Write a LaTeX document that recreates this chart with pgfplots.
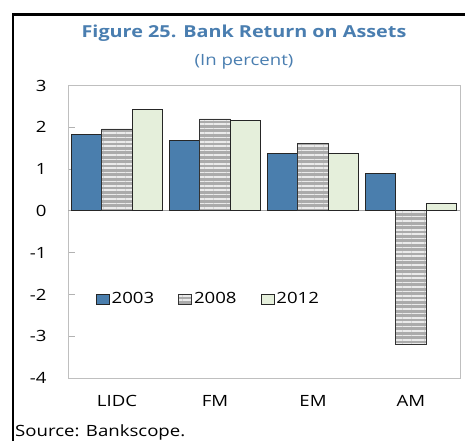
\documentclass[border=0pt]{standalone}
\usepackage{fontspec}
\setmainfont[FakeStretch=1.2]{Open Sans}
\usepackage{pgfplots}
\pgfplotsset{compat=1.18}
\usetikzlibrary{patterns.meta}
\definecolor{c2003}{HTML}{4A7EAD}
\definecolor{c2008}{HTML}{ABABAB}
\definecolor{c2012}{HTML}{E5EFDB}
\definecolor{titleblue}{HTML}{4A7EB0}
\begin{document}
\begin{tikzpicture}[x=1pt,y=1pt]
\useasboundingbox (0,0) rectangle (465,441);
\draw[line width=2.5pt] (13,0) -- (13,426.5) -- (466,426.5);
\node[anchor=base, font=\fontsize{16.5}{20}\selectfont\bfseries, text=titleblue] at (244,403) {Figure 25. Bank Return on Assets};
\node[anchor=base, font=\fontsize{15.5}{19}\selectfont, text=titleblue] at (244,375) {(In percent)};
\node[anchor=base west, inner sep=0pt, font=\fontsize{15.5}{19}\selectfont] at (15,5) {Source: Bankscope.};
\begin{axis}[
  at={(68pt,63pt)}, anchor=south west, scale only axis,
  width=392pt, height=292.5pt,
  ymin=-4, ymax=3, xmin=-0.5, xmax=3.5,
  ybar=0pt, bar width=0.312,
  ytick={-4,-3,-2,-1,0,1,2,3},
  xtick={0,1,2,3}, xticklabels={LIDC,FM,EM,AM},
  x tick style={draw=none},
  ytick pos=left, tick align=inside,
  y tick style={black!30, line width=0.8pt},
  major tick length=7pt,
  axis line style={black!25, line width=0.9pt},
  /pgf/number format/assume math mode=true,
  ticklabel style={font=\fontsize{15.5}{19}\selectfont},
  yticklabel style={anchor=east, xshift=-18pt},
  xticklabel style={anchor=center, yshift=-23pt},
  extra y ticks={0}, extra y tick labels={},
  extra y tick style={grid=major, major grid style={black!35, line width=0.8pt}, tick style={draw=none}},
  legend style={at={(0.063,0.27)}, anchor=west, draw=none, fill=none,
    legend columns=3, font=\fontsize{15.5}{19}\selectfont,
    /tikz/every even column/.append style={column sep=22pt}},
  legend image code/.code={\draw[#1, line width=0.8pt] (0pt,-5pt) rectangle (13pt,5pt);},
]
\addplot[fill=c2003, draw=black!85, line width=0.8pt] coordinates {(0,1.82) (1,1.68) (2,1.38) (3,0.90)};
\addplot[fill=c2008, draw=black!80, line width=0.8pt,
  postaction={pattern={Lines[angle=0,distance=4.4pt,line width=1.6pt]}, pattern color=white!92!black}]
  coordinates {(0,1.96) (1,2.20) (2,1.61) (3,-3.19)};
\addplot[fill=c2012, draw=black!85, line width=0.8pt] coordinates {(0,2.42) (1,2.17) (2,1.37) (3,0.17)};
\legend{2003,2008,2012}
\end{axis}
\end{tikzpicture}
\end{document}
